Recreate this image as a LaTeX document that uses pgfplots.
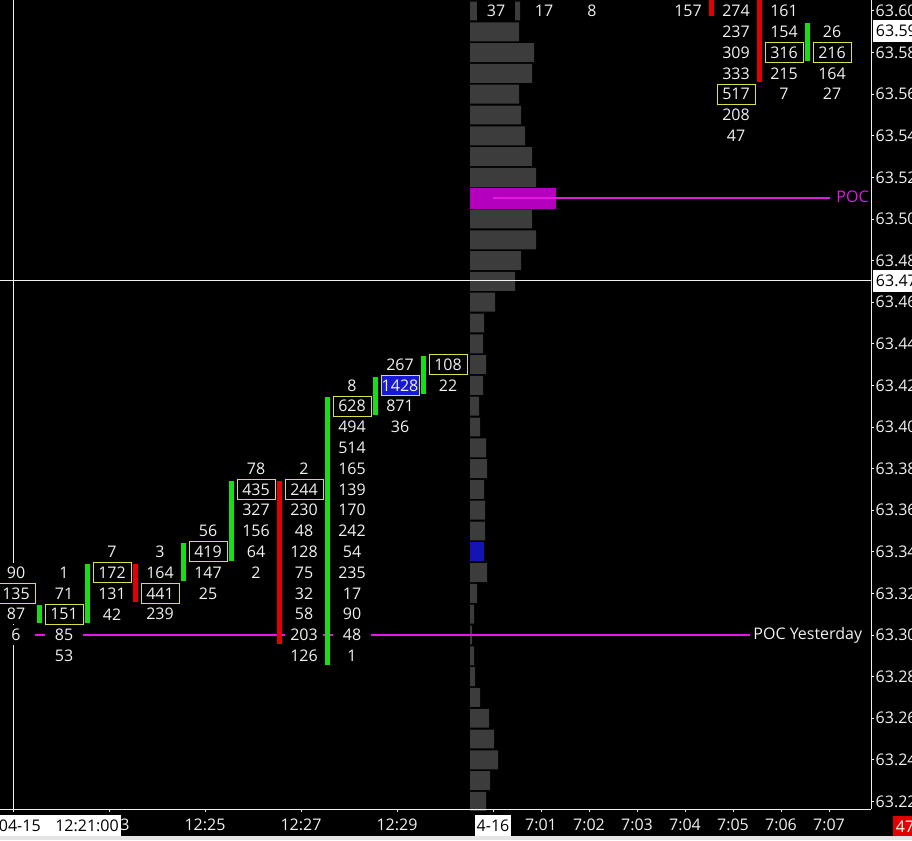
\documentclass[border=0pt]{standalone}
\usepackage{pgfplots}
\pgfplotsset{compat=1.18}
\usepackage{pgfplotstable}
\usepackage{fontspec}
\setmainfont{Open Sans}
\newcommand\cf{\fontsize{12}{14}\selectfont}

\definecolor{txt}{RGB}{240,240,240}
\definecolor{boxy}{RGB}{222,222,70}
\definecolor{upg}{RGB}{24,222,24}
\definecolor{dnr}{RGB}{228,0,0}
\definecolor{prof}{RGB}{60,60,60}
\definecolor{pocbar}{RGB}{180,0,190}
\definecolor{pocln}{RGB}{225,25,225}
\definecolor{hotb}{RGB}{24,24,215}
\definecolor{profb}{RGB}{20,20,180}

% volume at price: slot (0 = 12:21 ... 9 = 12:30, 10 = 7:00 ... 17 = 7:07), price, volume
\pgfplotstableread{
t p v
0 63.33 90
0 63.31 87
0 63.30 6
1 63.33 1
1 63.32 71
1 63.30 85
1 63.29 53
2 63.34 7
2 63.32 131
2 63.31 42
3 63.34 3
3 63.33 164
3 63.31 239
4 63.35 56
4 63.33 147
4 63.32 25
5 63.38 78
5 63.36 327
5 63.35 156
5 63.34 64
5 63.33 2
6 63.38 2
6 63.36 230
6 63.35 48
6 63.34 128
6 63.33 75
6 63.32 32
6 63.31 58
6 63.30 203
6 63.29 126
7 63.42 8
7 63.40 494
7 63.39 514
7 63.38 165
7 63.37 139
7 63.36 170
7 63.35 242
7 63.34 54
7 63.33 235
7 63.32 17
7 63.31 90
7 63.30 48
7 63.29 1
8 63.43 267
8 63.41 871
8 63.40 36
9 63.42 22
10 63.60 37
11 63.60 17
12 63.60 8
14 63.60 157
15 63.60 274
15 63.59 237
15 63.58 309
15 63.57 333
15 63.55 208
15 63.54 47
16 63.60 161
16 63.59 154
16 63.57 215
16 63.56 7
17 63.59 26
17 63.57 164
17 63.56 27
}\cells

% largest volume of each bar (framed)
\pgfplotstableread{
t p v
0 63.32 135
1 63.31 151
2 63.33 172
3 63.32 441
4 63.34 419
5 63.37 435
6 63.37 244
7 63.41 628
9 63.43 108
15 63.56 517
16 63.58 316
17 63.58 216
}\maxcells

% session volume profile (bar length)
\pgfplotstableread{
p w
63.60 50
63.59 49
63.58 64
63.57 62
63.56 49
63.55 51
63.54 55
63.53 62
63.52 66
63.50 62
63.49 66
63.48 51
63.47 45
63.46 25
63.45 14
63.44 13
63.43 16
63.42 13
63.41 9
63.40 10
63.39 16
63.38 17
63.37 14
63.36 15
63.35 15
63.33 17
63.32 7
63.31 4
63.30 2
63.29 4
63.28 5
63.27 10
63.26 19
63.25 24
63.24 28
63.23 20
63.22 16
}\profile

\pgfplotsset{
  geom/.style={at={(0pt,23.25pt)}, anchor=south west, scale only axis,
    width=653.25pt, height=606.75pt, ymin=63.21635, ymax=63.60529},
  cell/.style={draw=none, mark=none, nodes near coords,
    point meta=explicit symbolic, nodes near coords align={center}},
}

\begin{document}
\begin{tikzpicture}
\useasboundingbox (0,0) rectangle (684pt,630pt);
\clip (0,0) rectangle (684pt,630pt);
\fill[black] (0,0) rectangle (684pt,630pt);

% profile
\begin{axis}[geom, hide axis, xmin=-470, xmax=401, clip=false]
  \addplot[xbar, bar shift=0pt, bar width=0.0091, fill=prof, draw=none]
    table[x=w, y=p] {\profile};
  \addplot[xbar, bar shift=0pt, bar width=0.0101, fill=pocbar, draw=none]
    coordinates {(86,63.51)};
  \addplot[xbar, bar shift=0pt, bar width=0.0091, fill=profb, draw=none]
    coordinates {(14,63.34)};
\end{axis}

% footprint
\begin{axis}[geom,
  xmin=-0.27083, xmax=17.875,
  clip=false,
  axis x line*=bottom, axis y line*=right,
  axis line style={draw=txt, line width=0.75pt},
  tick align=outside, major tick length=2.25pt,
  tick style={draw=txt, line width=0.75pt},
  xtick={0,2,4,6,8,10,11,12,13,14,15,16,17},
  xticklabels={,12:23,12:25,12:27,12:29,,7:01,7:02,7:03,7:04,7:05,7:06,7:07},
  ytick={63.22,63.24,63.26,63.28,63.30,63.32,63.34,63.36,63.38,63.40,
         63.42,63.44,63.46,63.48,63.50,63.52,63.54,63.56,63.58,63.60},
  yticklabel style={xshift=-2.25pt, /pgf/number format/.cd, fixed, fixed zerofill, precision=2},
  /pgf/number format/assume math mode=true,
  ticklabel style={font=\cf, text=txt},
  xticklabel style={yshift=-2pt},
  every node near coord/.append style={font=\cf, text=txt, fill=black,
    inner sep=0pt, minimum width=28.5pt, minimum height=15pt, xshift=2.25pt},
]
  % POC lines
  \addplot[pocln, line width=1.5pt] coordinates {(-0.3,63.30) (15.35,63.30)};
  \addplot[pocln, line width=1.5pt] coordinates {(10.0,63.51) (17.02,63.51)};

  % volume numbers
  \addplot[cell] table[x=t, y=p, meta=v] {\cells};
  \addplot[cell, every node near coord/.append style={draw=boxy, line width=0.75pt}]
    table[x=t, y=p, meta=v] {\maxcells};
  \addplot[cell, every node near coord/.append style={fill=hotb, draw=boxy, line width=0.75pt}]
    coordinates {(8,63.42) [1428]};

  % bar bodies
  \addplot[upg, line width=3.75pt, unbounded coords=jump] coordinates {
    (0.552,63.3058) (0.552,63.3142) (0.552,nan)
    (1.552,63.3058) (1.552,63.3342) (1.552,nan)
    (3.552,63.3258) (3.552,63.3442) (3.552,nan)
    (4.552,63.3358) (4.552,63.3742) (4.552,nan)
    (6.552,63.2858) (6.552,63.4142) (6.552,nan)
    (7.552,63.4058) (7.552,63.4242) (7.552,nan)
    (8.552,63.4158) (8.552,63.4342) (8.552,nan)
    (16.552,63.5758) (16.552,63.5942)};
  \addplot[dnr, line width=3.75pt, unbounded coords=jump] coordinates {
    (2.552,63.3158) (2.552,63.3342) (2.552,nan)
    (5.552,63.2958) (5.552,63.3742) (5.552,nan)
    (14.552,63.5978) (14.552,63.62) (14.552,nan)
    (15.552,63.5658) (15.552,63.62)};

  \node[font=\cf, text=txt, anchor=west, inner sep=0pt] at (axis cs:15.42,63.30) {POC Yesterday};
  \node[font=\cf, text=pocln, anchor=west, inner sep=0pt] at (axis cs:17.15,63.5106) {POC};

  % crosshair
  \draw[txt, line width=0.75pt] (axis cs:0,63.21635) -- (axis cs:0,63.60529);
  \draw[txt, line width=0.75pt] (axis cs:-0.27083,63.4702) -- (axis cs:17.875,63.4702);

  \node[font=\cf, fill=white, text=black, anchor=north east, inner xsep=1.5pt, inner ysep=0pt,
    minimum height=16.5pt, yshift=-4pt] at (axis cs:2.25,63.21635) {04-15\hspace{11pt}12:21:00};
  \node[font=\cf, fill=white, text=black, anchor=north, inner xsep=1.5pt, inner ysep=0pt,
    minimum height=16.5pt, yshift=-4pt] at (axis cs:10,63.21635) {4-16};
  \node[font=\cf, fill=white, text=black, anchor=west, inner xsep=2pt, inner ysep=0pt,
    minimum height=16.5pt, xshift=1.5pt] at (axis cs:17.875,63.5904) {63.59};
  \node[font=\cf, fill=white, text=black, anchor=west, inner xsep=2pt, inner ysep=0pt,
    minimum height=16.5pt, xshift=1.5pt] at (axis cs:17.875,63.4702) {63.47};
  \node[font=\cf, fill=dnr, text=white, anchor=north west, inner xsep=2pt, inner ysep=0pt,
    minimum height=15pt, xshift=16.5pt, yshift=-5.25pt] at (axis cs:17.875,63.21635) {47};
\end{axis}

\fill[black!10] (0,0) rectangle (684pt,3pt);
\end{tikzpicture}
\end{document}
